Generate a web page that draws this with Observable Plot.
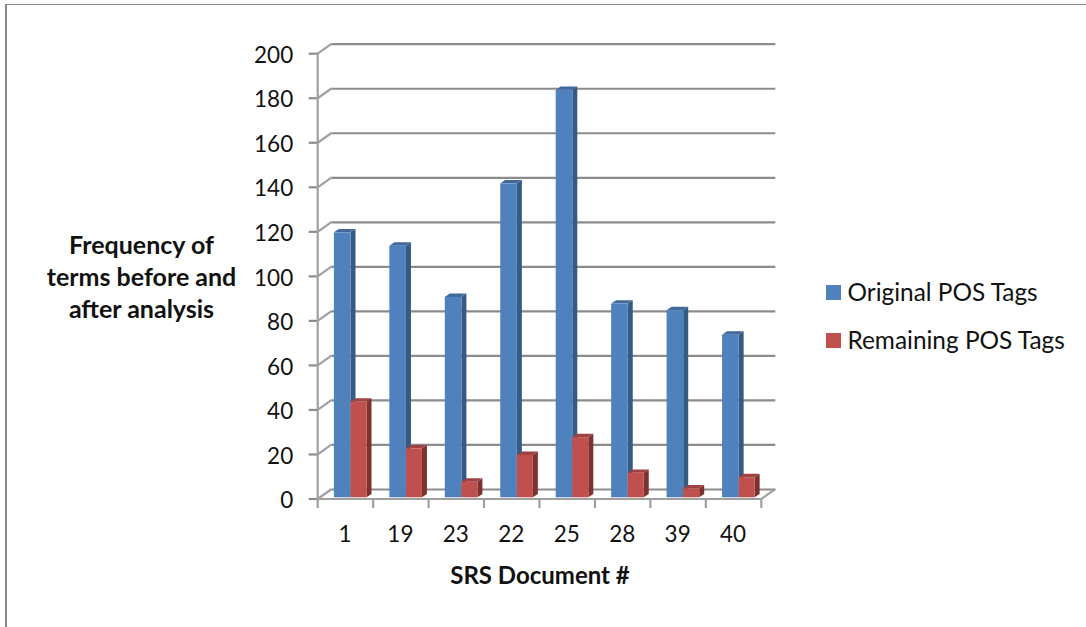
<!DOCTYPE html>
<html>
<head>
<meta charset="utf-8">
<script src="https://cdn.jsdelivr.net/npm/d3@7"></script>
<script src="https://cdn.jsdelivr.net/npm/@observablehq/plot@0.6"></script>
<style>
html,body{margin:0;padding:0;background:#fff;overflow:hidden}
#wrap{position:relative;width:1086px;height:627px;font-family:Lato,sans-serif}
#frame{position:absolute;left:5px;top:4px;right:-5px;bottom:-5px;border-left:2px solid #888;border-top:1px solid #888}
.lg{position:absolute;left:826px;font-size:24.4px;line-height:28px;color:#111;white-space:nowrap}
.lg i{position:absolute;left:0;top:6px;width:15px;height:15px}
.lg span{position:absolute;left:21.5px;top:-1px}
svg{position:absolute;left:0;top:0}
</style>
</head>
<body>
<div id="wrap"><div id="frame"></div></div>
<script>
const docs = ["1","19","23","22","25","28","39","40"];
const original = [119,113,90,141,183,87,84,73];
const remaining = [43,22,7,19,27,11,4,9];
const seriesNames = ["Original POS Tags","Remaining POS Tags"];
const seriesFront = ["#4F81BD","#C0504D"];
const seriesSide = ["#355A85","#7D322F"];
const seriesTop = ["#41699B","#A04340"];
const yTicks = [0,20,40,60,80,100,120,140,160,180,200];

const wallColor = "#8C8C8C", wallLight = "#A0A0A0";
const wallDx = 14, wallDy = -10;
const barDx = 5, barDy = -3.4, barLift = -1.7;
const inset = [{l:16.2,r:22.65},{l:32.8,r:6.65}];
const rows = s => docs.map((doc,i)=>({doc,value:(s?remaining:original)[i],s}));

function walls(index,{x,y}){
  const g = d3.create("svg:g").attr("stroke",wallLight).attr("stroke-width",2.2).attr("fill","none");
  const line=(a,b,c,d)=>g.append("line").attr("x1",a).attr("y1",b).attr("x2",c).attr("y2",d);
  const left=x(docs[0]), bw=x.bandwidth(), right=x(docs[docs.length-1])+bw;
  for(const t of yTicks){
    line(left,y(t),left+wallDx,y(t)+wallDy);
    line(left-9,y(t),left,y(t)).attr("stroke",wallColor);
  }
  line(left,y(0),left,y(200));
  line(right,y(0),right+wallDx,y(0)+wallDy);
  docs.forEach(d=>line(x(d),y(0),x(d),y(0)+9));
  line(right,y(0),right,y(0)+9);
  line(left,y(0),right,y(0));
  return g.node();
}
function faces(s){
  return function(index,{x,y}){
    const g=d3.create("svg:g");
    for(const r of rows(s)){
      const a=x(r.doc)+inset[s].l, b=x(r.doc)+x.bandwidth()-inset[s].r, t=y(r.value)+barLift, z=y(0)+barLift;
      g.append("polygon").attr("fill",seriesSide[s])
        .attr("points",[[b,t],[b+barDx,t+barDy],[b+barDx,z+barDy],[b,z]].join(" "));
      g.append("polygon").attr("fill",seriesTop[s])
        .attr("points",[[a,t],[a+barDx,t+barDy],[b+barDx,t+barDy],[b,t]].join(" "));
    }
    return g.node();
  };
}
const bar = s => Plot.barY(rows(s),{x:"doc",y:"value",dy:barLift,fill:seriesFront[s],insetLeft:inset[s].l,insetRight:inset[s].r});

const chart = Plot.plot({
  width:1086,height:627,
  marginLeft:317.7,marginRight:324.7,marginTop:53.7,marginBottom:128,
  style:{background:"transparent",fontFamily:"Lato,sans-serif",overflow:"visible"},
  x:{type:"band",domain:docs,padding:0,align:0,round:false},
  y:{domain:[0,200]},
  marks:[
    Plot.ruleY(yTicks,{dx:wallDx,dy:wallDy,stroke:wallColor,strokeWidth:2.2}),
    walls,
    faces(0),bar(0),faces(1),bar(1),
    Plot.axisY({ticks:yTicks,tickSize:0,tickPadding:25,dy:1.5,fill:"#111",fontSize:22.5,label:null,tickFormat:d=>d}),
    Plot.axisX({tickSize:0,tickPadding:27,dx:-1,fill:"#111",fontSize:22.5,label:null}),
    Plot.text(["SRS Document #"],{frameAnchor:"bottom",lineAnchor:"middle",dy:77,fontSize:24,fontWeight:700,fill:"#111"}),
    Plot.text(["Frequency of\nterms before and\nafter analysis"],{frameAnchor:"left",textAnchor:"middle",lineAnchor:"middle",dx:-176.7,dy:-1,lineHeight:1.28,fontSize:25,fontWeight:700,fill:"#111"})
  ]
});
const wrap=document.getElementById("wrap");
wrap.appendChild(chart);
seriesNames.forEach((n,i)=>{
  const e=document.createElement("div");e.className="lg";e.style.top=(279+i*48.4)+"px";
  const sw=document.createElement("i");sw.style.background=seriesFront[i];
  const tx=document.createElement("span");tx.textContent=n;
  e.append(sw,tx);wrap.appendChild(e);
});
</script>
</body>
</html>
